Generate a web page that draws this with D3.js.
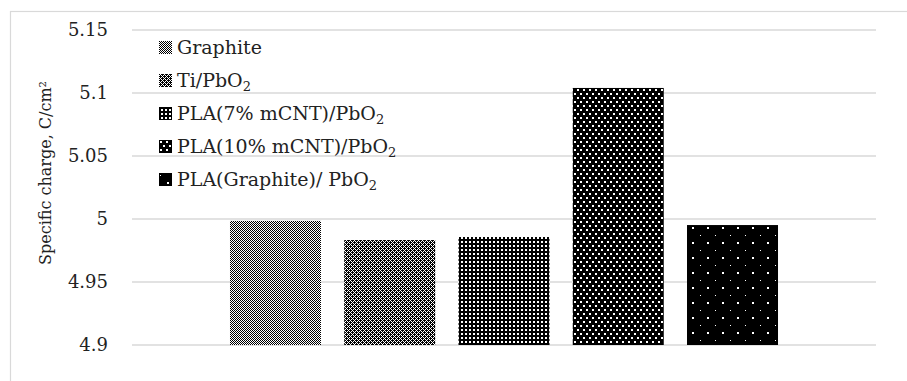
<!DOCTYPE html>
<html><head><meta charset="utf-8">
<script src="https://cdn.jsdelivr.net/npm/d3@7"></script>
<style>body{margin:0;background:#fff}svg{display:block}</style>
</head><body>
<svg id="c" width="907" height="381"></svg>
<script>
const categories = [""];
const seriesNames = ["Graphite", "Ti/PbO2", "PLA(7% mCNT)/PbO2", "PLA(10% mCNT)/PbO2", "PLA(Graphite)/ PbO2"];
const seriesValues = [4.9985, 4.9833, 4.9857, 5.104, 4.9952];
const yTicks = [4.9, 4.95, 5, 5.05, 5.1, 5.15];
const yTickLabels = ["4.9", "4.95", "5", "5.05", "5.1", "5.15"];
const yTitle = "Specific charge, C/cm²";

const svg = d3.select("#c");
const font = "'Palatino Linotype','Book Antiqua',Palatino,'DejaVu Serif',serif";
const grid = "#d9d9d9";

// patterns
const defs = svg.append("defs");
function pat(id, w, h, bg, fg, rects) {
  const p = defs.append("pattern").attr("id", id).attr("patternUnits", "userSpaceOnUse")
    .attr("width", w).attr("height", h);
  p.append("rect").attr("width", w).attr("height", h).attr("fill", bg);
  rects.forEach(r => p.append("rect").attr("x", r[0]).attr("y", r[1]).attr("width", r[2]).attr("height", r[3])
    .attr("fill", fg).attr("shape-rendering", "crispEdges"));
}
pat("p0", 2, 2, "#fff", "#000", [[0,0,1,1],[1,1,1,1]]);
pat("p1", 4, 4, "#fff", "#000", [[2,1,1,1],[1,2,3,1],[2,3,1,1],[0,0,2,1],[3,0,1,1],[0,1,1,1],[0,3,1,1]]);
pat("p2", 4, 4, "#000", "#fff", [[1,1,2,2]]);
pat("p3", 6, 8, "#000", "#fff", [[1,1,1.5,1.5],[4,5,1.5,1.5]]);
pat("p4", 15, 15, "#000", "#fff", [[2,2,1.5,1.5],[9.5,9.5,1.5,1.5]]);
const fills = ["url(#p0)", "url(#p1)", "url(#p2)", "url(#p3)", "url(#p4)"];

// border
svg.append("rect").attr("x", 10.5).attr("y", 11.5).attr("width", 920).attr("height", 400)
  .attr("fill", "none").attr("stroke", grid).attr("stroke-width", 1.2);

const y = d3.scaleLinear().domain([4.9, 5.15]).range([345, 30]);
const x0 = d3.scaleBand().domain(categories).range([132, 876]).paddingInner(0).paddingOuter(0.1788);
const x1 = d3.scaleBand().domain(seriesNames).range([0, x0.bandwidth()]).paddingInner(0.2035).paddingOuter(0);

// gridlines
svg.append("g").selectAll("line").data(yTicks).join("line")
  .attr("x1", 132).attr("x2", 876).attr("y1", d => y(d)).attr("y2", d => y(d))
  .attr("stroke", grid).attr("stroke-width", 1.5);

// y axis labels
const yAxis = d3.axisLeft(y).tickValues(yTicks).tickFormat((d, i) => yTickLabels[i]).tickSize(0).tickPadding(0);
const ga = svg.append("g").attr("transform", "translate(108,0)").call(yAxis);
ga.select(".domain").remove();
ga.selectAll("text").attr("font-family", font).attr("font-size", 18).attr("fill", "#222");

// bars
svg.append("g").selectAll("rect").data(seriesValues).join("rect")
  .attr("x", (d, i) => x0(categories[0]) + x1(seriesNames[i]))
  .attr("width", x1.bandwidth())
  .attr("y", d => y(d)).attr("height", d => y(4.9) - y(d))
  .attr("fill", (d, i) => fills[i]);

// y title
svg.append("text").attr("transform", "translate(51,173) rotate(-90)")
  .attr("text-anchor", "middle").attr("font-family", font).attr("font-size", 16).attr("fill", "#222")
  .text(yTitle);

// legend
const lg = svg.append("g");
seriesNames.forEach((name, i) => {
  const by = 54 + i * 33;
  lg.append("rect").attr("x", 159).attr("y", by - 13).attr("width", 13).attr("height", 13).attr("fill", fills[i]);
  const t = lg.append("text").attr("x", 177).attr("y", by).attr("font-family", font).attr("font-size", 19).attr("fill", "#222");
  const m = name.match(/^(.*PbO)2$/);
  if (m) {
    t.append("tspan").text(m[1]);
    t.append("tspan").attr("dy", 4).attr("font-size", 13).text("2");
  } else t.text(name);
});
</script>
</body></html>
